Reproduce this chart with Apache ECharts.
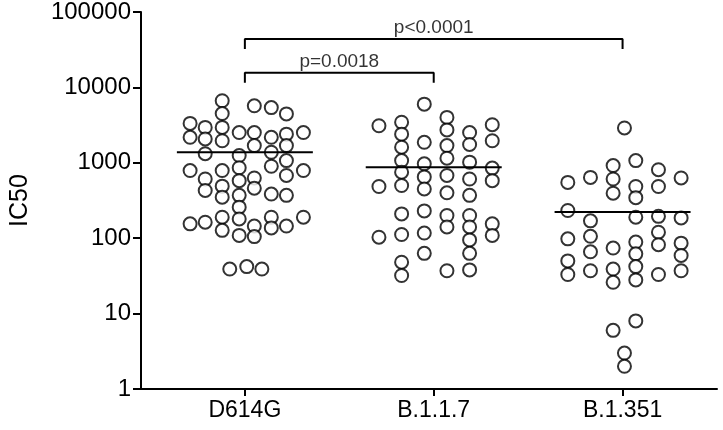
<!DOCTYPE html><html><head><meta charset="utf-8"><script src="https://cdn.jsdelivr.net/npm/echarts@6/dist/echarts.min.js"></script>
<style>html,body{margin:0;background:#fff}#c{width:723px;height:430px}</style></head><body><div id="c"></div><script>
const categories=['D614G','B.1.1.7','B.1.351'];
const yTicks=[1,10,100,1000,10000,100000];
const colOffsets=[-0.29,-0.21,-0.12,-0.03,0.05,0.14,0.22,0.31];
const colOffsets6=[-0.29,-0.17,-0.05,0.07,0.19,0.31];
const d614g=[[3330,2180,790,155],[2950,2070,1320,610,430,163],[6650,4500,2950,1960,790,490,350,190,127],[2520,1250,860,580,370,258,180,109],[5700,2520,1690,630,460,145,105],[5400,2180,1380,900,385,190,137],[4450,2400,1690,1070,680,370,145],[2520,790,190]];
const d614gLow=[[-0.08,39],[0.01,42],[0.09,39]];
const b117=[[3100,485,103],[3450,2400,1610,1070,750,500,210,112,48,32],[6000,1870,970,650,450,230,117,63],[4000,2730,1690,1150,680,400,200,141,37],[2520,1750,1020,610,370,200,141,95,63,38],[3200,1960,850,580,155,109]];
const b1351=[[550,233,98,50,33],[640,170,106,66,37],[920,610,395,74,39,26,6],[1070,485,345,190,89,62,42,28,8],[810,485,195,120,82,33],[630,186,86,59,37]];
const b1351Mid=[[0.01,2900],[0.01,3],[0.01,2]];
const medians=[1380,870,222];
const brackets=[{from:1,to:2,top:15600,foot:11500,text:'p=0.0018'},{from:1,to:3,top:43900,foot:32400,text:'p<0.0001'}];
const pts=[];
function addCols(cols,offs,c){cols.forEach((col,i)=>col.forEach(v=>pts.push([c+offs[i],v])));}
addCols(d614g,colOffsets,1);d614gLow.forEach(p=>pts.push([1+p[0],p[1]]));
addCols(b117,colOffsets6,2);addCols(b1351,colOffsets6,3);b1351Mid.forEach(p=>pts.push([3+p[0],p[1]]));
const series=[{type:'scatter',data:pts,symbol:'circle',symbolSize:13,itemStyle:{color:'#fff',borderColor:'#000',borderWidth:2},z:3}];
medians.forEach((m,i)=>series.push({type:'line',data:[[i+1-0.36,m],[i+1+0.36,m]],symbol:'none',lineStyle:{color:'#000',width:2},z:4}));
brackets.forEach(b=>{
 series.push({type:'line',data:[[b.from,b.foot],[b.from,b.top],[b.to,b.top],[b.to,b.foot]],symbol:'none',lineStyle:{color:'#000',width:2}});
 series.push({type:'scatter',data:[[(b.from+b.to)/2,b.top]],symbolSize:1,itemStyle:{color:'transparent'},
  label:{show:true,formatter:b.text,position:'top',distance:1,color:'#000',fontSize:19,fontFamily:'Liberation Sans'}});
});
const ch=echarts.init(document.getElementById('c'));
ch.setOption({animation:false,grid:{left:140,right:6,top:11,bottom:41},
xAxis:{type:'value',min:0.45,max:3.5,splitLine:{show:false},axisLine:{lineStyle:{color:'#000',width:2}},
 axisTick:{customValues:[1,2,3],length:7,lineStyle:{color:'#000',width:2}},
 axisLabel:{customValues:[1,2,3],formatter:v=>categories[Math.round(v)-1],color:'#000',fontSize:23,fontFamily:'Liberation Sans',margin:10}},
yAxis:{type:'log',logBase:10,min:1,max:100000,name:'IC50',nameLocation:'middle',nameGap:108,nameTextStyle:{color:'#000',fontSize:25,fontFamily:'Liberation Sans'},
 splitLine:{show:false},axisLine:{show:true,lineStyle:{color:'#000',width:2}},axisTick:{length:8,lineStyle:{color:'#000',width:2}},
 minorTick:{show:false},axisLabel:{color:'#000',fontSize:24,fontFamily:'Liberation Sans',margin:10,formatter:v=>yTicks.includes(v)?String(v):''}},
series});
</script></body></html>
